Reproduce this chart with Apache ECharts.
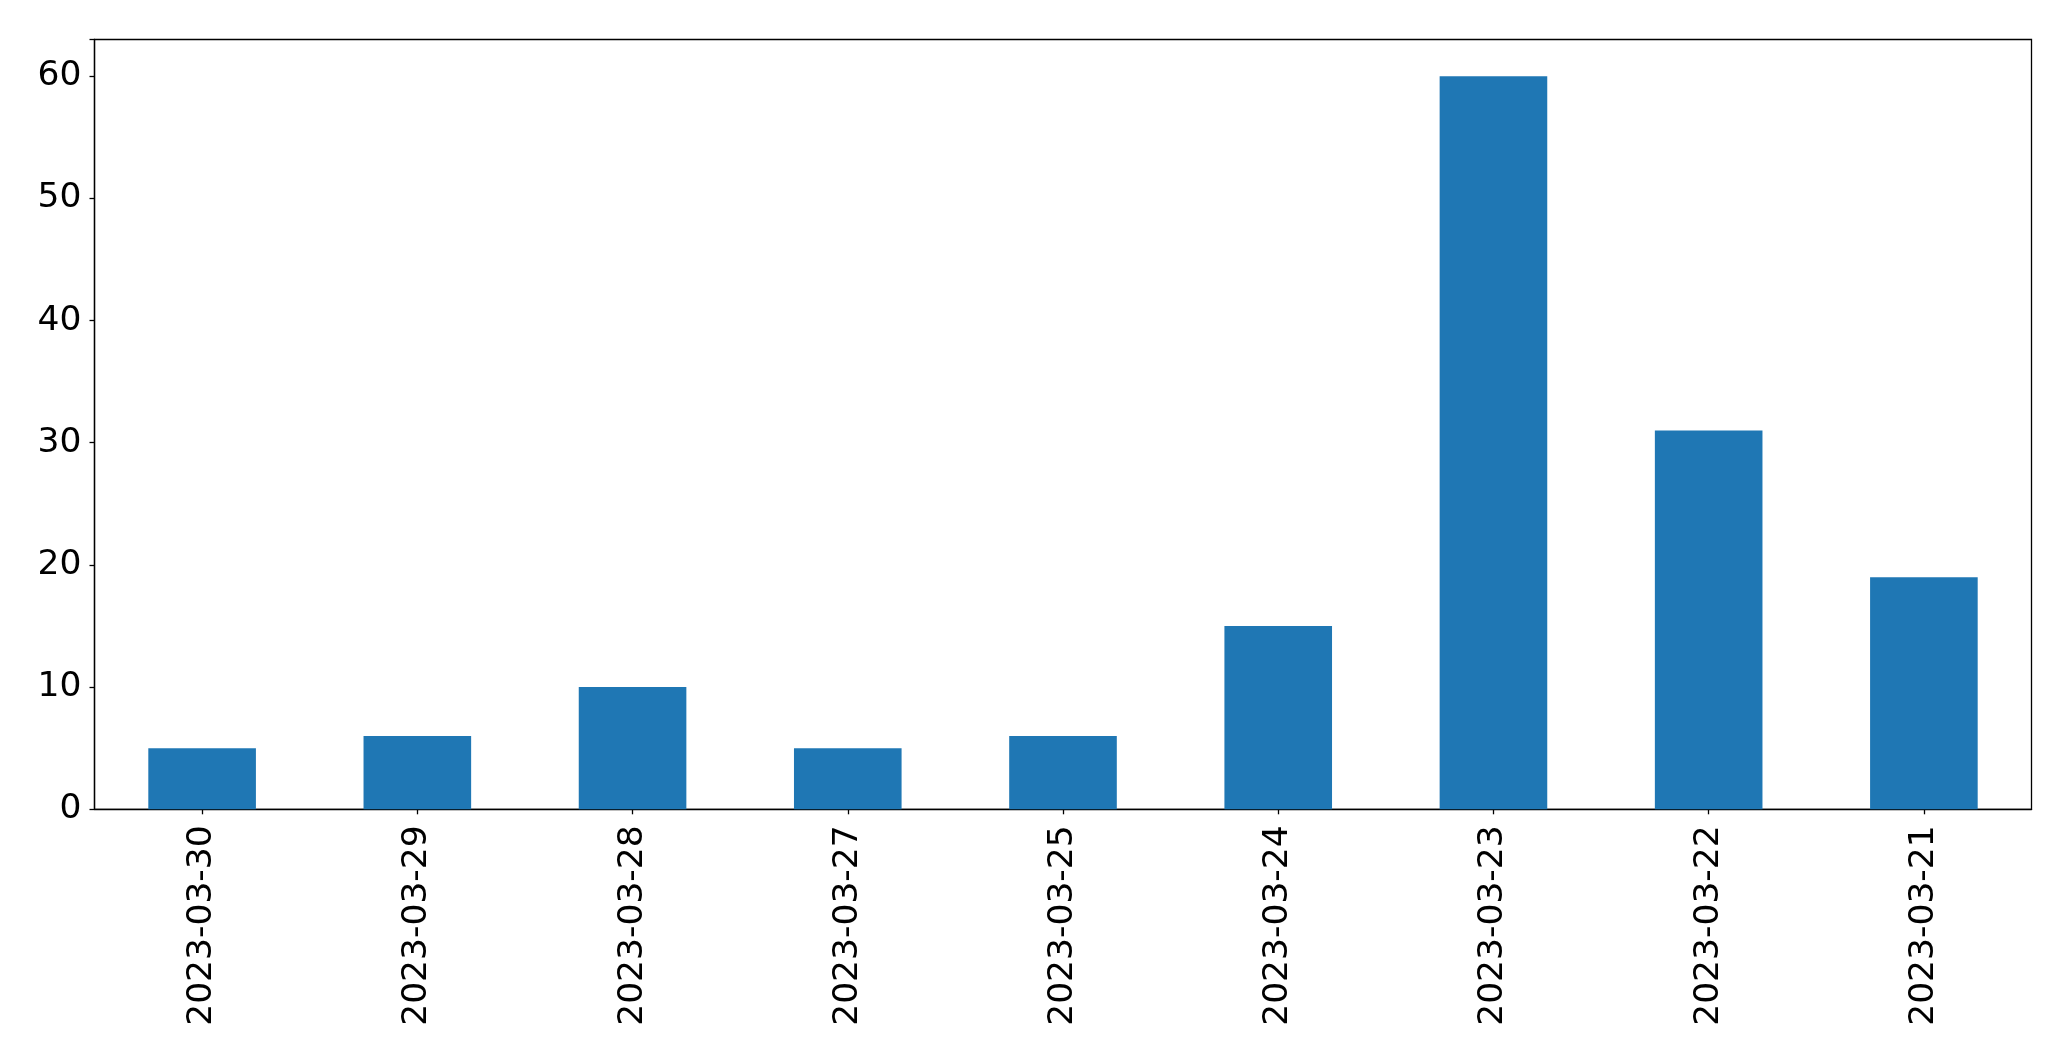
<!DOCTYPE html>
<html>
<head>
<meta charset="utf-8">
<script src="https://cdn.jsdelivr.net/npm/echarts@6/dist/echarts.min.js"></script>
<style>
html,body{margin:0;padding:0;background:#fff;}
#c{width:2071px;height:1061px;}
</style>
</head>
<body>
<div id="c"></div>
<script>
const categories = ["2023-03-30","2023-03-29","2023-03-28","2023-03-27","2023-03-25","2023-03-24","2023-03-23","2023-03-22","2023-03-21"];
const values = [5, 6, 10, 5, 6, 15, 60, 31, 19];
const yTicks = [0, 10, 20, 30, 40, 50, 60];

const chart = echarts.init(document.getElementById('c'), null, {renderer: 'canvas'});
const font = 'DejaVu Sans';
chart.setOption({
  animation: false,
  backgroundColor: '#ffffff',
  grid: {
    left: 94.5, top: 39.5, right: 39.5, bottom: 251.7,
    show: true, borderColor: '#000000', borderWidth: 1.3, backgroundColor: 'transparent'
  },
  xAxis: {
    type: 'category',
    data: categories,
    boundaryGap: true,
    axisLine: {show: true, lineStyle: {color: '#000', width: 1.3}},
    axisTick: {show: true, alignWithLabel: true, length: 5, lineStyle: {color: '#000', width: 1.3}},
    axisLabel: {rotate: 90, margin: 16, fontFamily: font, fontSize: 34.5, color: '#000', interval: 0},
    splitLine: {show: false}
  },
  yAxis: {
    type: 'value',
    min: 0, max: 63, interval: 10,
    axisLine: {show: true, lineStyle: {color: '#000', width: 1.3}},
    axisTick: {show: true, length: 5, lineStyle: {color: '#000', width: 1.3}},
    axisLabel: {
      margin: 13, fontFamily: font, fontSize: 34.5, color: '#000',
      formatter: function (v) { return yTicks.indexOf(v) >= 0 ? String(v) : ''; }
    },
    splitLine: {show: false}
  },
  series: [{
    type: 'bar',
    data: values,
    barWidth: '50%',
    itemStyle: {color: '#1f77b4'}
  }]
});
</script>
</body>
</html>
